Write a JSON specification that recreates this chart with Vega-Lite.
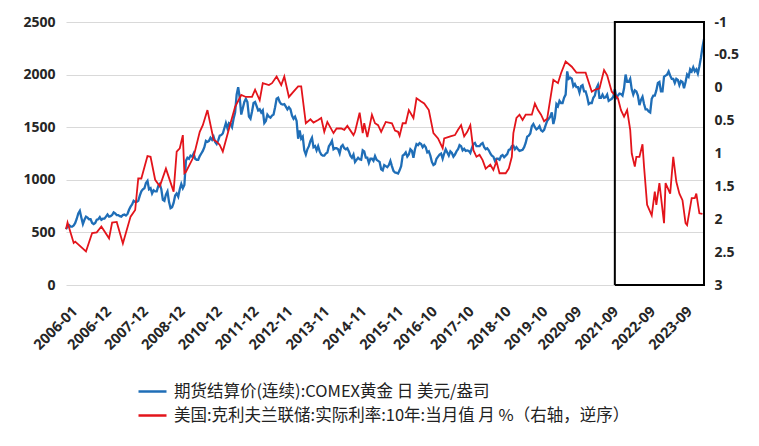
{
"$schema": "https://vega.github.io/schema/vega-lite/v6.json",
"width": 638, "height": 263,
"autosize": {"type": "none"},
"padding": {"left": 66, "top": 22, "right": 55, "bottom": 161},
"background": "white",
"config": {"view": {"stroke": null}},
"datasets": {
"box": [
{"d":"2021-11-16","v":0,"o":1},{"d":"2021-11-16","v":2500,"o":2},{"d":"2024-04-16","v":2500,"o":3},{"d":"2024-04-16","v":0,"o":4},{"d":"2021-11-16","v":0,"o":5}
],
"gold": [
{"d":"2006-01-01","g":530,"r":2.15},{"d":"2006-01-16","g":555,"r":2.05},{"d":"2006-02-01","g":570},{"d":"2006-02-16","g":555},{"d":"2006-03-01","g":555},{"d":"2006-03-16","g":565,"r":2.36},{"d":"2006-04-01","g":590,"r":2.34},{"d":"2006-04-16","g":630},{"d":"2006-05-01","g":680},{"d":"2006-05-16","g":705},{"d":"2006-06-01","g":640},{"d":"2006-06-16","g":580},{"d":"2006-07-01","g":620},{"d":"2006-07-16","g":650,"r":2.49},{"d":"2006-08-01","g":640},{"d":"2006-08-16","g":625},{"d":"2006-09-01","g":625},{"d":"2006-09-16","g":590,"r":2.21},{"d":"2006-10-01","g":580},{"d":"2006-10-16","g":590},{"d":"2006-11-01","g":620,"r":2.20},{"d":"2006-11-16","g":625},{"d":"2006-12-01","g":645},{"d":"2006-12-16","g":620,"r":2.11},
{"d":"2007-01-01","g":630},{"d":"2007-01-16","g":630},{"d":"2007-02-01","g":650},{"d":"2007-02-16","g":670},{"d":"2007-03-01","g":650,"r":2.29},{"d":"2007-03-16","g":655},{"d":"2007-04-01","g":665,"r":2.05},{"d":"2007-04-16","g":690},{"d":"2007-05-01","g":680},{"d":"2007-05-16","g":665,"r":2.04},{"d":"2007-06-01","g":665},{"d":"2007-06-16","g":655},{"d":"2007-07-01","g":650},{"d":"2007-07-16","g":665,"r":2.37},{"d":"2007-08-01","g":670},{"d":"2007-08-16","g":660},{"d":"2007-09-01","g":675},{"d":"2007-09-16","g":715},{"d":"2007-10-01","g":745,"r":1.96},{"d":"2007-10-16","g":765},{"d":"2007-11-01","g":800},{"d":"2007-11-16","g":790,"r":1.86},{"d":"2007-12-01","g":790},{"d":"2007-12-16","g":800,"r":1.38},
{"d":"2008-01-01","g":850},{"d":"2008-01-16","g":890,"r":1.38},{"d":"2008-02-01","g":910},{"d":"2008-02-16","g":920},{"d":"2008-03-01","g":970},{"d":"2008-03-16","g":990,"r":1.04},{"d":"2008-04-01","g":910},{"d":"2008-04-16","g":920,"r":1.05},{"d":"2008-05-01","g":870},{"d":"2008-05-16","g":900},{"d":"2008-06-01","g":890,"r":1.40},{"d":"2008-06-16","g":890},{"d":"2008-07-01","g":940},{"d":"2008-07-16","g":960,"r":1.50},{"d":"2008-08-01","g":910},{"d":"2008-08-16","g":810},{"d":"2008-09-01","g":800},{"d":"2008-09-16","g":860,"r":1.23},{"d":"2008-10-01","g":890},{"d":"2008-10-16","g":790},{"d":"2008-11-01","g":730},{"d":"2008-11-16","g":740},{"d":"2008-12-01","g":780,"r":1.58},{"d":"2008-12-16","g":850},
{"d":"2009-01-01","g":870,"r":0.97},{"d":"2009-01-16","g":840},{"d":"2009-02-01","g":910,"r":0.92},{"d":"2009-02-16","g":960},{"d":"2009-03-01","g":920,"r":0.72},{"d":"2009-03-16","g":950,"r":1.30},
{"d":"2010-04-01","g":1180,"r":1.28},{"d":"2010-04-16","g":1210},{"d":"2010-05-01","g":1200},{"d":"2010-05-16","g":1230},{"d":"2010-06-01","g":1220},{"d":"2010-06-16","g":1250,"r":1.05},{"d":"2010-07-01","g":1200},{"d":"2010-07-16","g":1190},{"d":"2010-08-01","g":1190},{"d":"2010-08-16","g":1225,"r":0.67},{"d":"2010-09-01","g":1250},{"d":"2010-09-16","g":1275,"r":0.57},{"d":"2010-10-01","g":1310},{"d":"2010-10-16","g":1370},{"d":"2010-11-01","g":1360,"r":0.34},{"d":"2010-11-16","g":1370},{"d":"2010-12-01","g":1400},{"d":"2010-12-16","g":1380},
{"d":"2011-01-01","g":1410,"r":0.79},{"d":"2011-01-16","g":1360},{"d":"2011-02-01","g":1340,"r":0.82},{"d":"2011-02-16","g":1375},{"d":"2011-03-01","g":1420,"r":0.87},{"d":"2011-03-16","g":1425},{"d":"2011-04-01","g":1440,"r":0.97},{"d":"2011-04-16","g":1490},{"d":"2011-05-01","g":1540},{"d":"2011-05-16","g":1490},{"d":"2011-06-01","g":1540},{"d":"2011-06-16","g":1530,"r":0.54},{"d":"2011-07-01","g":1500},{"d":"2011-07-16","g":1580},{"d":"2011-08-01","g":1640,"r":0.29},{"d":"2011-08-16","g":1810},{"d":"2011-09-01","g":1880},{"d":"2011-09-16","g":1780},{"d":"2011-10-01","g":1620,"r":0.11},{"d":"2011-10-16","g":1680},{"d":"2011-11-01","g":1740},{"d":"2011-11-16","g":1770,"r":0.14},{"d":"2011-12-01","g":1740},{"d":"2011-12-16","g":1600},
{"d":"2012-01-01","g":1580},{"d":"2012-01-16","g":1650,"r":0.14},{"d":"2012-02-01","g":1730},{"d":"2012-02-16","g":1740,"r":0.03},{"d":"2012-03-01","g":1700},{"d":"2012-03-16","g":1660},{"d":"2012-04-01","g":1670,"r":0.19},{"d":"2012-04-16","g":1640},{"d":"2012-05-01","g":1660,"r":-0.07},{"d":"2012-05-16","g":1540},{"d":"2012-06-01","g":1560},{"d":"2012-06-16","g":1620},{"d":"2012-07-01","g":1600,"r":-0.04},{"d":"2012-07-16","g":1590},{"d":"2012-08-01","g":1610,"r":-0.07},{"d":"2012-08-16","g":1620},{"d":"2012-09-01","g":1690},{"d":"2012-09-16","g":1770,"r":-0.17},{"d":"2012-10-01","g":1780},{"d":"2012-10-16","g":1740},{"d":"2012-11-01","g":1720,"r":-0.04},{"d":"2012-11-16","g":1715},{"d":"2012-12-01","g":1720,"r":-0.17},{"d":"2012-12-16","g":1695},
{"d":"2013-01-01","g":1670},{"d":"2013-01-16","g":1690,"r":0.14},{"d":"2013-02-01","g":1670},{"d":"2013-02-16","g":1610},{"d":"2013-03-01","g":1580,"r":0.06},{"d":"2013-03-16","g":1600},{"d":"2013-04-01","g":1560},{"d":"2013-04-16","g":1390,"r":-0.02},{"d":"2013-05-01","g":1470},{"d":"2013-05-16","g":1390,"r":-0.02},{"d":"2013-06-01","g":1410},{"d":"2013-06-16","g":1280},{"d":"2013-07-01","g":1240,"r":0.54},{"d":"2013-07-16","g":1290},{"d":"2013-08-01","g":1320},{"d":"2013-08-16","g":1370,"r":0.48},{"d":"2013-09-01","g":1400},{"d":"2013-09-16","g":1310,"r":0.53},{"d":"2013-10-01","g":1320},{"d":"2013-10-16","g":1280},{"d":"2013-11-01","g":1320,"r":0.49},{"d":"2013-11-16","g":1270},{"d":"2013-12-01","g":1240,"r":0.46},{"d":"2013-12-16","g":1230},
{"d":"2014-01-01","g":1230,"r":0.67},{"d":"2014-01-16","g":1250},{"d":"2014-02-01","g":1260,"r":0.52},{"d":"2014-02-16","g":1320},{"d":"2014-03-01","g":1340},{"d":"2014-03-16","g":1370},{"d":"2014-04-01","g":1290,"r":0.69},{"d":"2014-04-16","g":1300},{"d":"2014-05-01","g":1300,"r":0.62},{"d":"2014-05-16","g":1290},{"d":"2014-06-01","g":1250},{"d":"2014-06-16","g":1315,"r":0.62},{"d":"2014-07-01","g":1330},{"d":"2014-07-16","g":1300,"r":0.64},{"d":"2014-08-01","g":1290},{"d":"2014-08-16","g":1300,"r":0.58},{"d":"2014-09-01","g":1270},{"d":"2014-09-16","g":1230},{"d":"2014-10-01","g":1210},{"d":"2014-10-16","g":1240,"r":0.72},{"d":"2014-11-01","g":1170,"r":0.67},{"d":"2014-11-16","g":1190},{"d":"2014-12-01","g":1210},{"d":"2014-12-16","g":1195,"r":0.38},
{"d":"2015-01-01","g":1190},{"d":"2015-01-16","g":1280,"r":0.69},{"d":"2015-02-01","g":1270,"r":0.54},{"d":"2015-02-16","g":1210},{"d":"2015-03-01","g":1210,"r":0.75},{"d":"2015-03-16","g":1160},{"d":"2015-04-01","g":1200},{"d":"2015-04-16","g":1200,"r":0.41},{"d":"2015-05-01","g":1180},{"d":"2015-05-16","g":1225,"r":0.54},{"d":"2015-06-01","g":1190},{"d":"2015-06-16","g":1180,"r":0.57},{"d":"2015-07-01","g":1170},{"d":"2015-07-16","g":1100,"r":0.67},{"d":"2015-08-01","g":1090},{"d":"2015-08-16","g":1140},{"d":"2015-09-01","g":1130,"r":0.52},{"d":"2015-09-16","g":1120},{"d":"2015-10-01","g":1140},{"d":"2015-10-16","g":1180},{"d":"2015-11-01","g":1130,"r":0.54},{"d":"2015-11-16","g":1085},{"d":"2015-12-01","g":1070,"r":0.65},{"d":"2015-12-16","g":1065},
{"d":"2016-01-01","g":1060,"r":0.67},{"d":"2016-01-16","g":1090,"r":0.73},{"d":"2016-02-01","g":1130},{"d":"2016-02-16","g":1230,"r":0.54},{"d":"2016-03-01","g":1240},{"d":"2016-03-16","g":1260,"r":0.54},{"d":"2016-04-01","g":1220},{"d":"2016-04-16","g":1240,"r":0.34},{"d":"2016-05-01","g":1290},{"d":"2016-05-16","g":1275},{"d":"2016-06-01","g":1210,"r":0.46},{"d":"2016-06-16","g":1290},{"d":"2016-07-01","g":1340,"r":0.16},{"d":"2016-07-16","g":1330},{"d":"2016-08-01","g":1350},{"d":"2016-08-16","g":1340,"r":0.21},{"d":"2016-09-01","g":1310},{"d":"2016-09-16","g":1330,"r":0.24},{"d":"2016-10-01","g":1310},{"d":"2016-10-16","g":1260},{"d":"2016-11-01","g":1270,"r":0.34},{"d":"2016-11-16","g":1230},{"d":"2016-12-01","g":1170},{"d":"2016-12-16","g":1140,"r":0.69},
{"d":"2017-01-01","g":1150},{"d":"2017-01-16","g":1200},{"d":"2017-02-01","g":1220,"r":0.77},{"d":"2017-02-16","g":1240},{"d":"2017-03-01","g":1250},{"d":"2017-03-16","g":1200,"r":0.92},{"d":"2017-04-01","g":1250,"r":0.77},{"d":"2017-04-16","g":1290},{"d":"2017-05-01","g":1260},{"d":"2017-05-16","g":1230},{"d":"2017-06-01","g":1270,"r":0.74},{"d":"2017-06-16","g":1255},{"d":"2017-07-01","g":1220},{"d":"2017-07-16","g":1240,"r":0.72},{"d":"2017-08-01","g":1270},{"d":"2017-08-16","g":1290,"r":0.64},{"d":"2017-09-01","g":1330},{"d":"2017-09-16","g":1320,"r":0.57},{"d":"2017-10-01","g":1280},{"d":"2017-10-16","g":1295,"r":0.74},{"d":"2017-11-01","g":1275},{"d":"2017-11-16","g":1280,"r":0.67},{"d":"2017-12-01","g":1275},{"d":"2017-12-16","g":1255,"r":0.57},
{"d":"2018-01-01","g":1300},{"d":"2018-01-16","g":1340,"r":0.95},{"d":"2018-02-01","g":1350},{"d":"2018-02-16","g":1320,"r":1.05},{"d":"2018-03-01","g":1320},{"d":"2018-03-16","g":1320,"r":1.02},{"d":"2018-04-01","g":1340},{"d":"2018-04-16","g":1350,"r":1.10},{"d":"2018-05-01","g":1310},{"d":"2018-05-16","g":1290,"r":1.23},{"d":"2018-06-01","g":1300},{"d":"2018-06-16","g":1280},{"d":"2018-07-01","g":1250,"r":1.17},{"d":"2018-07-16","g":1230},{"d":"2018-08-01","g":1220,"r":1.25},{"d":"2018-08-16","g":1180},{"d":"2018-09-01","g":1200,"r":1.12},{"d":"2018-09-16","g":1200},{"d":"2018-10-01","g":1190,"r":1.30},{"d":"2018-10-16","g":1225},{"d":"2018-11-01","g":1235},{"d":"2018-11-16","g":1215},{"d":"2018-12-01","g":1230,"r":1.30},{"d":"2018-12-16","g":1245},
{"d":"2019-01-01","g":1285,"r":1.23},{"d":"2019-01-16","g":1290},{"d":"2019-02-01","g":1320,"r":1.05},{"d":"2019-02-16","g":1325,"r":0.69},{"d":"2019-03-01","g":1290},{"d":"2019-03-16","g":1310,"r":0.46},{"d":"2019-04-01","g":1290},{"d":"2019-04-16","g":1275,"r":0.41},{"d":"2019-05-01","g":1280},{"d":"2019-05-16","g":1285,"r":0.49},{"d":"2019-06-01","g":1310},{"d":"2019-06-16","g":1350,"r":0.41},{"d":"2019-07-01","g":1410},{"d":"2019-07-16","g":1420},{"d":"2019-08-01","g":1440},{"d":"2019-08-16","g":1510,"r":0.41},{"d":"2019-09-01","g":1530},{"d":"2019-09-16","g":1500,"r":0.24},{"d":"2019-10-01","g":1480},{"d":"2019-10-16","g":1490,"r":0.34},{"d":"2019-11-01","g":1510},{"d":"2019-11-16","g":1470,"r":0.41},{"d":"2019-12-01","g":1460},{"d":"2019-12-16","g":1475,"r":0.51},
{"d":"2020-01-01","g":1520},{"d":"2020-01-16","g":1560,"r":0.47},{"d":"2020-02-01","g":1580},{"d":"2020-02-16","g":1600},{"d":"2020-03-01","g":1640},{"d":"2020-03-16","g":1530,"r":-0.12},{"d":"2020-04-01","g":1590},{"d":"2020-04-16","g":1720},{"d":"2020-05-01","g":1700,"r":-0.07},{"d":"2020-05-16","g":1750},{"d":"2020-06-01","g":1730,"r":-0.22},{"d":"2020-06-16","g":1730},{"d":"2020-07-01","g":1780},{"d":"2020-07-16","g":1810,"r":-0.40},{"d":"2020-08-01","g":2030},{"d":"2020-08-16","g":1960},{"d":"2020-09-01","g":1970},{"d":"2020-09-16","g":1960,"r":-0.32},{"d":"2020-10-01","g":1890},{"d":"2020-10-16","g":1910},{"d":"2020-11-01","g":1880,"r":-0.23},{"d":"2020-11-16","g":1880},{"d":"2020-12-01","g":1830},{"d":"2020-12-16","g":1890,"r":-0.23},
{"d":"2021-01-01","g":1900},{"d":"2021-01-16","g":1840},{"d":"2021-02-01","g":1840,"r":-0.23},{"d":"2021-02-16","g":1790},{"d":"2021-03-01","g":1720},{"d":"2021-03-16","g":1730},{"d":"2021-04-01","g":1730,"r":0.06},{"d":"2021-04-16","g":1780},{"d":"2021-05-01","g":1800,"r":0.03},{"d":"2021-05-16","g":1870},{"d":"2021-06-01","g":1900},{"d":"2021-06-16","g":1780,"r":0.01},{"d":"2021-07-01","g":1780},{"d":"2021-07-16","g":1810},{"d":"2021-08-01","g":1780,"r":-0.27},{"d":"2021-08-16","g":1785},{"d":"2021-09-01","g":1810,"r":-0.19},{"d":"2021-09-16","g":1750},{"d":"2021-10-01","g":1760},{"d":"2021-10-16","g":1770,"r":0.06},{"d":"2021-11-01","g":1790},{"d":"2021-11-16","g":1860,"r":0.11},{"d":"2021-12-01","g":1780},{"d":"2021-12-16","g":1800,"r":0.16},
{"d":"2022-01-01","g":1820},{"d":"2022-01-16","g":1815,"r":0.34},{"d":"2022-02-01","g":1800},{"d":"2022-02-16","g":1870,"r":0.44},{"d":"2022-03-01","g":2000},{"d":"2022-03-16","g":1930,"r":0.34},{"d":"2022-04-01","g":1930},{"d":"2022-04-16","g":1960,"r":0.64},{"d":"2022-05-01","g":1860,"r":1.00},{"d":"2022-05-16","g":1810},{"d":"2022-06-01","g":1850,"r":1.20},{"d":"2022-06-16","g":1840,"r":1.05},{"d":"2022-07-01","g":1800},{"d":"2022-07-16","g":1710,"r":1.05},{"d":"2022-08-01","g":1760},{"d":"2022-08-16","g":1790,"r":0.86},{"d":"2022-09-01","g":1720,"r":1.20},{"d":"2022-09-16","g":1670},{"d":"2022-10-01","g":1670,"r":1.78},{"d":"2022-10-16","g":1650},{"d":"2022-11-01","g":1640},{"d":"2022-11-16","g":1770,"r":1.94},{"d":"2022-12-01","g":1800},{"d":"2022-12-16","g":1800,"r":1.58},
{"d":"2023-01-01","g":1850,"r":1.78},{"d":"2023-01-16","g":1920},{"d":"2023-02-01","g":1930,"r":1.45},{"d":"2023-02-16","g":1840},{"d":"2023-03-01","g":1840},{"d":"2023-03-16","g":1980,"r":2.06},{"d":"2023-04-01","g":1990,"r":1.45},{"d":"2023-04-16","g":2000},{"d":"2023-05-01","g":2030},{"d":"2023-05-16","g":1990,"r":1.61},{"d":"2023-06-01","g":1960},{"d":"2023-06-16","g":1960,"r":1.05},{"d":"2023-07-01","g":1920},{"d":"2023-07-16","g":1960,"r":1.43},{"d":"2023-08-01","g":1950},{"d":"2023-08-16","g":1900,"r":1.61},{"d":"2023-09-01","g":1940},{"d":"2023-09-16","g":1930,"r":1.71},{"d":"2023-10-01","g":1870},{"d":"2023-10-16","g":1930,"r":2.06},{"d":"2023-11-01","g":2000,"r":2.09},{"d":"2023-11-16","g":1980},{"d":"2023-12-01","g":2050},{"d":"2023-12-16","g":2030,"r":1.68},
{"d":"2024-01-01","g":2070},{"d":"2024-01-16","g":2030,"r":1.68},{"d":"2024-02-01","g":2050,"r":1.61},{"d":"2024-02-16","g":2010},{"d":"2024-03-01","g":2080,"r":1.91},{"d":"2024-03-16","g":2160},{"d":"2024-04-01","g":2260,"r":1.92},{"d":"2024-04-16","g":2340}
]
},
"layer": [
{
"data": {"name": "gold"},
"mark": {"type": "line", "strokeWidth": 2.3},
"encoding": {
"x": {"field": "d", "type": "ordinal", "sort": "ascending", "scale": {"type": "point", "padding": 0},
"axis": {"title": null, "values": ["2006-01-01","2006-12-01","2007-12-01","2008-12-01","2010-12-01","2011-12-01","2012-11-01","2013-11-01","2014-11-01","2015-11-01","2016-10-01","2017-10-01","2018-10-01","2019-10-01","2020-09-01","2021-09-01","2022-09-01","2023-09-01"],
"labelExpr": "slice(datum.value, 0, 7)", "labelAngle": -45, "labelOverlap": false, "labelFont": "Open Sans", "labelFontWeight": "bold", "labelFontSize": 14.5, "labelColor": "#262626", "ticks": false, "domain": false, "grid": false, "labelPadding": 19, "labelOffset": 4}},
"y": {"field": "g", "type": "quantitative", "scale": {"domain": [0, 2500], "nice": false},
"axis": {"title": null, "orient": "left", "values": [0,500,1000,1500,2000,2500], "format": "d", "grid": true, "gridColor": "#d9d9d9", "gridWidth": 1, "domain": false, "ticks": false, "labelPadding": 11, "labelFont": "Open Sans", "labelFontWeight": "bold", "labelFontSize": 14, "labelColor": "#262626"}},
"color": {"datum": "期货结算价(连续):COMEX黄金 日 美元/盎司", "type": "nominal",
"scale": {"domain": ["期货结算价(连续):COMEX黄金 日 美元/盎司", "美国:克利夫兰联储:实际利率:10年:当月值 月 %（右轴，逆序）"], "range": ["#1F6EB7", "#E3141B"]},
"legend": {"orient": "none", "legendX": 71, "legendY": 354, "title": null, "direction": "vertical", "symbolType": "stroke", "symbolSize": 784, "symbolStrokeWidth": 2.5, "labelFont": "Noto Sans CJK SC", "labelFontSize": 16.5, "labelColor": "#222222", "labelLimit": 700, "rowPadding": -6, "labelOffset": 6, "padding": 0}}
}
},
{
"data": {"name": "gold"},
"transform": [{"filter": "isValid(datum.r)"}],
"mark": {"type": "line", "strokeWidth": 1.8},
"encoding": {
"x": {"field": "d", "type": "ordinal", "sort": "ascending"},
"y": {"field": "r", "type": "quantitative", "scale": {"domain": [-1, 3], "reverse": true, "nice": false, "zero": false},
"axis": {"title": null, "orient": "right", "values": [-1,-0.5,0,0.5,1,1.5,2,2.5,3], "labelExpr": "datum.value + ''", "grid": false, "domain": false, "ticks": false, "labelPadding": 10, "labelFont": "Open Sans", "labelFontWeight": "bold", "labelFontSize": 14, "labelColor": "#262626"}},
"color": {"datum": "美国:克利夫兰联储:实际利率:10年:当月值 月 %（右轴，逆序）", "type": "nominal"}
}
},
{
"data": {"name": "box"},
"mark": {"type": "line", "color": "black", "strokeWidth": 2},
"encoding": {
"x": {"field": "d", "type": "ordinal", "sort": "ascending"},
"y": {"field": "v", "type": "quantitative", "scale": {"domain": [0, 2500], "nice": false}, "axis": null},
"order": {"field": "o", "type": "quantitative"}
}
}
],
"resolve": {"scale": {"y": "independent"}}
}
